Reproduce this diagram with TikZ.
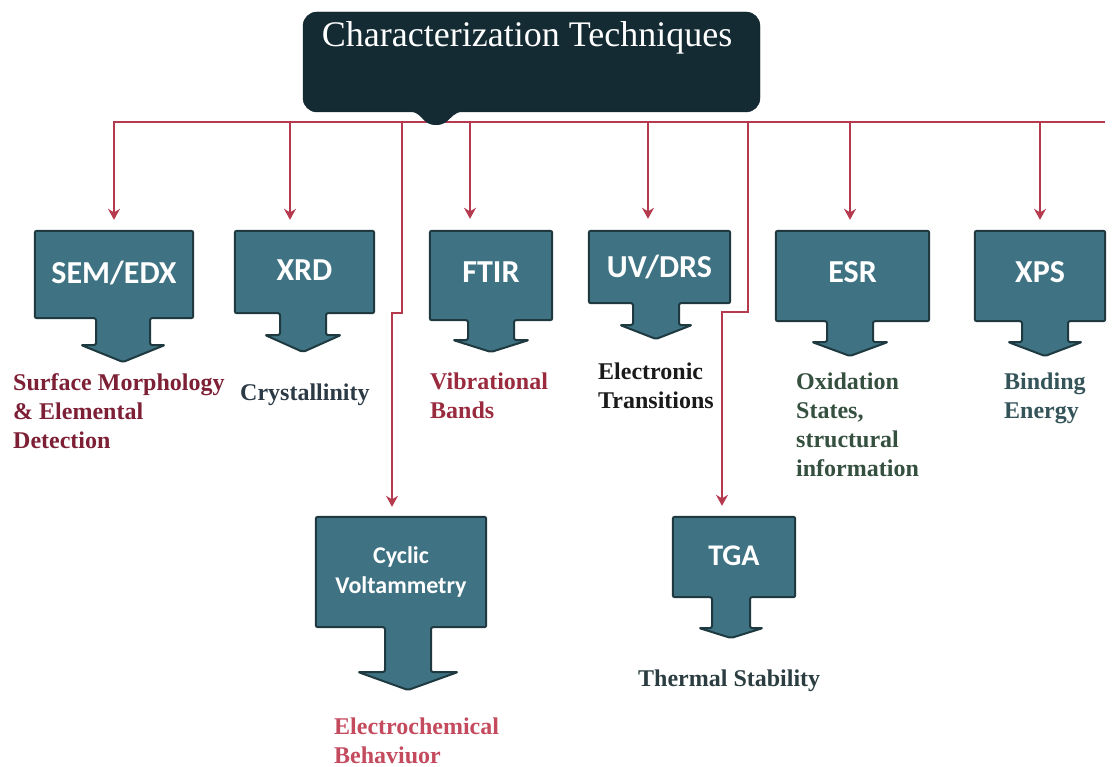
\documentclass[tikz,border=0pt]{standalone}
\usepackage{fontspec}
\setmainfont{Liberation Serif}
\newfontfamily\boxfont{Carlito}
\usetikzlibrary{arrows.meta,calc,backgrounds}

\definecolor{boxfill}{HTML}{3F7383}
\definecolor{boxline}{HTML}{1E3940}
\definecolor{titlefill}{HTML}{142B33}
\definecolor{wire}{HTML}{B53A4E}
\definecolor{labmaroon}{HTML}{7D1F35}
\definecolor{labslate}{HTML}{2C3A46}
\definecolor{labred}{HTML}{9A2A3E}
\definecolor{labblack}{HTML}{1A1A1A}
\definecolor{labgreen}{HTML}{35503F}
\definecolor{labteal}{HTML}{34545A}
\definecolor{labrose}{HTML}{C44A5E}
\definecolor{labdark}{HTML}{2B3D40}

% outline of a box with a downward block arrow below it
% #1 box node, #2 stem centre x, #3 stem half width,
% #4 head base y, #5 head half width, #6 tip y
\newcommand\calloutshape[6]{%
  \filldraw[callout] (#1.north west) -- (#1.north east) -- (#1.south east)
    -- (#1.south -| {#2+#3},0) -- ({#2+#3},#4) -- ({#2+#5},#4) -- (#2,#6)
    -- ({#2-#5},#4) -- ({#2-#3},#4) -- (#1.south -| {#2-#3},0)
    -- (#1.south west) -- cycle;
}

\begin{document}
\begin{tikzpicture}[x=1pt,y=-1pt,
  callout/.style={fill=boxfill, draw=boxline, line width=2pt, line join=round, rounded corners=2pt},
  boxnode/.style={inner sep=0pt, text=white, font=\boxfont\bfseries\fontsize{32}{36}\selectfont},
  conn/.style={draw=wire, line width=1.6pt, -{Stealth[length=11pt,width=12pt]}},
  bus/.style={draw=wire, line width=1.6pt},
  lab/.style={anchor=base west, inner sep=0pt, font=\bfseries\fontsize{24}{29}\selectfont},
]
\useasboundingbox (0,0) rectangle (1116,767);

% title
\node[fill=titlefill, draw=titlefill!80!black, rounded corners=14pt,
      minimum width=457pt, minimum height=100pt, inner sep=0pt] (tbox) at (531.5,62) {};
\node[anchor=base, inner sep=0pt, text=white, font=\fontsize{36}{40}\selectfont]
      (title) at (527,47) {Characterization Techniques};

% technique boxes
\node[boxnode, minimum width=158pt, minimum height=87pt] (sem) at (114,274.5) {\raisebox{4pt}{SEM/EDX}};
\node[boxnode, minimum width=139pt, minimum height=82pt] (xrd) at (304.5,272) {\raisebox{4pt}{XRD}};
\node[boxnode, minimum width=122pt, minimum height=89pt] (ftir) at (491,275.5) {\raisebox{6pt}{FTIR}};
\node[boxnode, minimum width=141pt, minimum height=72pt] (uv) at (659.5,267) {\raisebox{2pt}{UV/DRS}};
\node[boxnode, minimum width=153pt, minimum height=90pt] (esr) at (852.5,276) {\raisebox{7pt}{ESR}};
\node[boxnode, minimum width=130pt, minimum height=90pt] (xps) at (1040,276) {\raisebox{7pt}{XPS}};
\node[boxnode, minimum width=170pt, minimum height=110pt, align=center,
      font=\boxfont\bfseries\fontsize{24}{30}\selectfont] (cv) at (401,572) {Cyclic\\Voltammetry};
\node[boxnode, minimum width=122pt, minimum height=80pt,
      font=\boxfont\bfseries\fontsize{30}{34}\selectfont] (tga) at (734,557) {\raisebox{2pt}{TGA}};

\begin{scope}[on background layer]
  \calloutshape{sem}{123}{27}{345}{42}{362}
  \calloutshape{xrd}{303}{23}{335}{38}{352}
  \calloutshape{ftir}{491}{23}{340}{38}{352}
  \calloutshape{uv}{656}{23}{325}{36}{339}
  \calloutshape{esr}{850}{23}{342}{38}{356}
  \calloutshape{xps}{1045}{23}{342}{37}{356}
  \calloutshape{cv}{408}{23}{672}{50}{690}
  \calloutshape{tga}{731}{19}{628}{32}{638}
\end{scope}

% connectors
\coordinate (busL) at (113,122);
\coordinate (busR) at (1105,122);
\draw[bus] (busL) -- (busR);
\fill[titlefill] (405,111) .. controls (425,111) and (420,125) .. (436,125)
      .. controls (452,125) and (448,111) .. (468,111) -- cycle;

\draw[conn] (busL -| sem.north) -- ($(sem.north)+(0,-11)$);
\draw[conn] (busL -| 290,0) -- ($(xrd.north -| 290,0)+(0,-11)$);
\draw[conn] (busL -| 470,0) -- ($(ftir.north -| 470,0)+(0,-12)$);
\draw[conn] (busL -| 648,0) -- ($(uv.north -| 648,0)+(0,-12)$);
\draw[conn] (busL -| 850,0) -- ($(esr.north -| 850,0)+(0,-11)$);
\draw[conn] (busL -| xps.north) -- ($(xps.north)+(0,-11)$);
\draw[conn] (busL -| 402,0) -- (402,313) -- (392,313) -- ($(cv.north -| 392,0)+(0,-10)$);
\draw[conn] (busL -| 748,0) -- (748,312) -- (722,312) -- ($(tga.north -| 722,0)+(0,-11)$);

% findings
\node[lab, text=labmaroon] (semL) at (13,390)
  {\begin{tabular}[t]{@{}l@{}}Surface Morphology\\ \& Elemental\\ Detection\end{tabular}};
\node[lab, text=labslate] (xrdL) at (240,400) {Crystallinity};
\node[lab, text=labred] (ftirL) at (430,389)
  {\begin{tabular}[t]{@{}l@{}}Vibrational\\ Bands\end{tabular}};
\node[lab, text=labblack] (uvL) at (598,379)
  {\begin{tabular}[t]{@{}l@{}}Electronic\\ Transitions\end{tabular}};
\node[lab, text=labgreen] (esrL) at (796,389)
  {\begin{tabular}[t]{@{}l@{}}Oxidation\\ States,\\ structural\\ information\end{tabular}};
\node[lab, text=labteal] (xpsL) at (1004,389)
  {\begin{tabular}[t]{@{}l@{}}Binding\\ Energy\end{tabular}};
\node[lab, text=labrose] (cvL) at (334,734)
  {\begin{tabular}[t]{@{}l@{}}Electrochemical\\ Behaviuor\end{tabular}};
\node[lab, text=labdark] (tgaL) at (638,686) {Thermal Stability};
\end{tikzpicture}
\end{document}
